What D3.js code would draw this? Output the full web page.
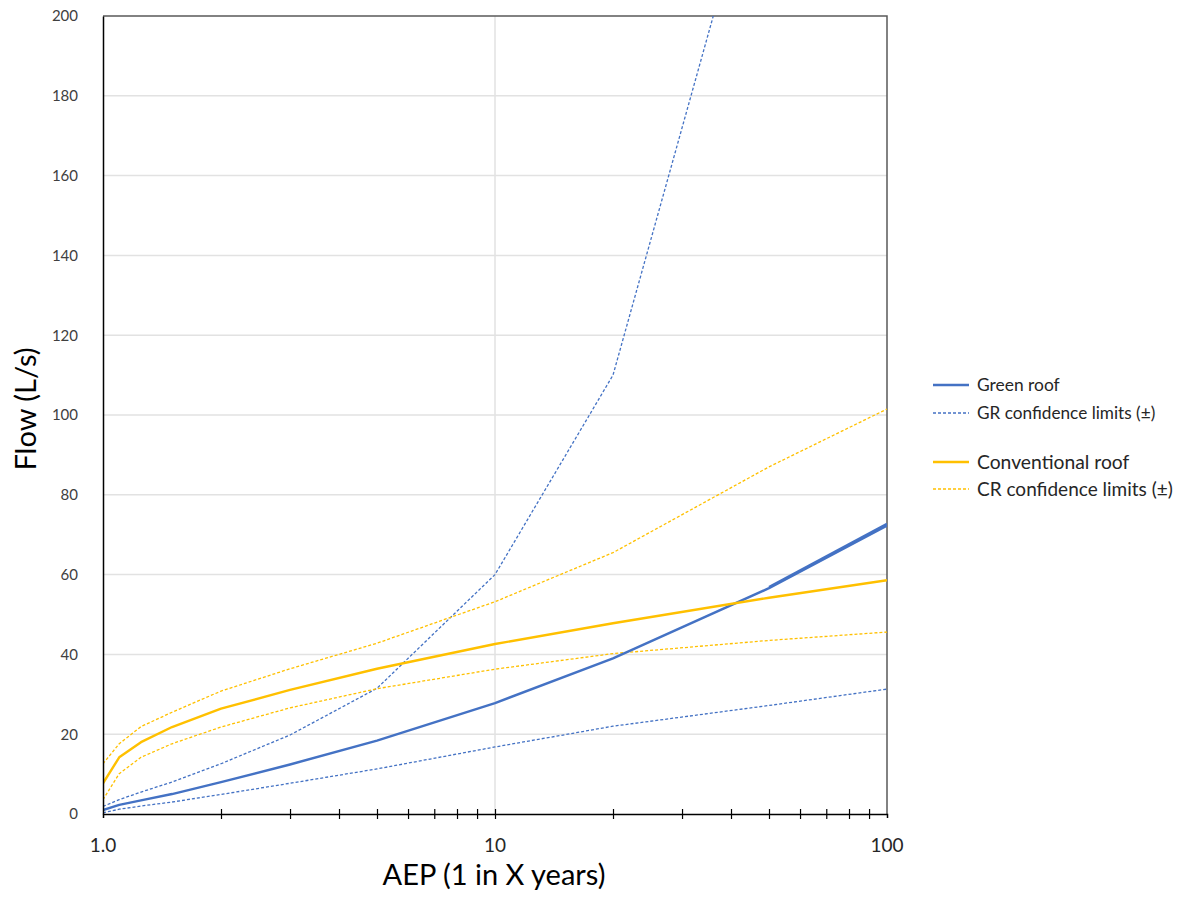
<!DOCTYPE html>
<html>
<head>
<meta charset="utf-8">
<script src="https://cdn.jsdelivr.net/npm/d3@7"></script>
<style>
  body { margin: 0; background: #fff; }
  text { font-family: Lato, "Open Sans", sans-serif; }
</style>
</head>
<body>
<div id="chart"></div>
<script>
// AEP values (1 in X years)
const aep = [1, 1.1, 1.25, 1.5, 2, 3, 5, 10, 20, 50, 100];

// flows (L/s)
const greenRoof = [1.0, 2.3, 3.4, 5.0, 8.0, 12.4, 18.4, 27.8, 39.0, 56.6, 72.3];
const grUpper = [1.9, 3.6, 5.5, 8.0, 12.6, 19.8, 31.5, 60, 110, 250, null];
const grLower = [0.3, 1.2, 2.0, 3.0, 4.9, 7.7, 11.3, 16.8, 22.0, 27.2, 31.3];
const conventionalRoof = [7.7, 14.2, 18.0, 21.8, 26.4, 31.1, 36.4, 42.6, 47.8, 54.2, 58.6];
const crUpper = [12.6, 17.6, 21.9, 25.5, 30.8, 36.4, 42.8, 53.2, 65.5, 87.0, 101.5];
const crLower = [3.6, 10.1, 14.2, 17.6, 21.8, 26.6, 31.4, 36.3, 40.2, 43.5, 45.6];

// the green roof line is drawn twice at the top end in the original
const grOverlapAep = [50, 100];
const grOverlap = [56.9, 72.7];

const yTicks = [0, 20, 40, 60, 80, 100, 120, 140, 160, 180, 200];
const xLabels = [1, 10, 100];
const xMinor = [2, 3, 4, 5, 6, 7, 8, 9, 10, 20, 30, 40, 50, 60, 70, 80, 90];

const legendItems = [
  { label: "Green roof", color: "#4472C4", dashed: false, size: 17.4 },
  { label: "GR confidence limits (±)", color: "#4472C4", dashed: true, size: 17.2 },
  { label: "Conventional roof", color: "#FFC000", dashed: false, size: 19.3 },
  { label: "CR confidence limits (±)", color: "#FFC000", dashed: true, size: 19 }
];

const width = 1183, height = 904;
const plotLeft = 103, plotRight = 887, plotTop = 16, plotBottom = 814;

const svg = d3.select("#chart")
  .append("svg")
  .attr("width", width)
  .attr("height", height);

const x = d3.scaleLog().domain([1, 100]).range([plotLeft, plotRight]);
const y = d3.scaleLinear().domain([0, 200]).range([plotBottom, plotTop]);

svg.append("defs")
  .append("clipPath")
  .attr("id", "plot-clip")
  .append("rect")
  .attr("x", plotLeft)
  .attr("y", plotTop)
  .attr("width", plotRight - plotLeft)
  .attr("height", plotBottom - plotTop);

// horizontal gridlines
svg.append("g")
  .selectAll("line")
  .data(yTicks.filter(d => d > 0 && d < 200))
  .enter()
  .append("line")
  .attr("x1", plotLeft)
  .attr("x2", plotRight)
  .attr("y1", d => y(d))
  .attr("y2", d => y(d))
  .attr("stroke", "#e2e2e2")
  .attr("stroke-width", 1.5);

// vertical gridline at 10
svg.append("line")
  .attr("x1", x(10))
  .attr("x2", x(10))
  .attr("y1", plotTop)
  .attr("y2", plotBottom)
  .attr("stroke", "#e2e2e2")
  .attr("stroke-width", 1.5);

// frame: top and right
svg.append("path")
  .attr("d", d3.line()([[plotLeft, plotTop], [plotRight, plotTop], [plotRight, plotBottom]]))
  .attr("fill", "none")
  .attr("stroke", "#595959")
  .attr("stroke-width", 1.5);

const plot = svg.append("g").attr("clip-path", "url(#plot-clip)");

const lineGen = d3.line()
  .defined(d => d[1] !== null)
  .x(d => x(d[0]))
  .y(d => y(d[1]));

const series = [
  { values: grLower, color: "#4472C4", dashed: true },
  { values: grUpper, color: "#4472C4", dashed: true },
  { values: crLower, color: "#FFC000", dashed: true },
  { values: crUpper, color: "#FFC000", dashed: true },
  { values: greenRoof, color: "#4472C4", dashed: false },
  { values: conventionalRoof, color: "#FFC000", dashed: false }
];

series.forEach(s => {
  plot.append("path")
    .datum(aep.map((a, i) => [a, s.values[i]]))
    .attr("d", lineGen)
    .attr("fill", "none")
    .attr("stroke", s.color)
    .attr("stroke-width", s.dashed ? 1.3 : 2.4)
    .attr("stroke-dasharray", s.dashed ? "3 2" : null)
    .attr("stroke-linejoin", "round");
});

plot.append("path")
  .datum(grOverlapAep.map((a, i) => [a, grOverlap[i]]))
  .attr("d", lineGen)
  .attr("fill", "none")
  .attr("stroke", "#4472C4")
  .attr("stroke-width", 2.4);

// y axis
const yAxis = svg.append("g")
  .attr("transform", `translate(${plotLeft},0)`)
  .call(d3.axisLeft(y).tickValues(yTicks).tickSize(0).tickPadding(25));
yAxis.select(".domain").attr("stroke", "#000").attr("stroke-width", 1.5);
yAxis.selectAll("text")
  .attr("font-size", 15)
  .attr("fill", "#404040")
  .attr("font-family", "Lato, sans-serif");

// x axis with crossing ticks
const xAxis = svg.append("g")
  .attr("transform", `translate(0,${plotBottom})`)
  .call(d3.axisBottom(x).tickValues(xMinor).tickSize(4).tickFormat(""));
xAxis.select(".domain").attr("stroke", "#000").attr("stroke-width", 1.5);
xAxis.selectAll(".tick line")
  .attr("y1", -5)
  .attr("y2", 5)
  .attr("stroke", "#000")
  .attr("stroke-width", 1.2);

svg.append("g")
  .selectAll("text")
  .data(xLabels)
  .enter()
  .append("text")
  .attr("x", d => x(d))
  .attr("y", 852)
  .attr("text-anchor", "middle")
  .attr("font-size", 19)
  .attr("fill", "#262626")
  .text(d => d === 1 ? "1.0" : d3.format("d")(d));

// axis titles
svg.append("text")
  .attr("x", 494)
  .attr("y", 885)
  .attr("text-anchor", "middle")
  .attr("font-size", 29)
  .attr("fill", "#000")
  .text("AEP (1 in X years)");

svg.append("text")
  .attr("transform", "translate(36,409) rotate(-90)")
  .attr("text-anchor", "middle")
  .attr("font-size", 29)
  .attr("fill", "#000")
  .text("Flow (L/s)");

// legend
const legendY = [385, 413, 462, 489];
const legend = svg.append("g");
legendItems.forEach((item, i) => {
  legend.append("line")
    .attr("x1", 933)
    .attr("x2", 969)
    .attr("y1", legendY[i])
    .attr("y2", legendY[i])
    .attr("stroke", item.color)
    .attr("stroke-width", item.dashed ? 1.3 : 2.4)
    .attr("stroke-dasharray", item.dashed ? "3 2" : null);
  legend.append("text")
    .attr("x", 977)
    .attr("y", legendY[i])
    .attr("dy", "0.35em")
    .attr("font-size", item.size)
    .attr("fill", "#262626")
    .text(item.label);
});
</script>
</body>
</html>
